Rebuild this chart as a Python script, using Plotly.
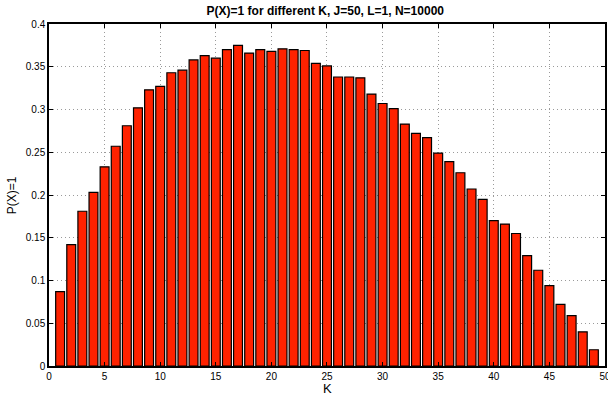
import plotly.graph_objects as go

K = list(range(1, 50))
P = [0.087, 0.142, 0.181, 0.203, 0.233, 0.257, 0.281, 0.302, 0.323, 0.327,
     0.343, 0.346, 0.358, 0.363, 0.360, 0.370, 0.375, 0.366, 0.370, 0.368,
     0.371, 0.370, 0.369, 0.354, 0.351, 0.338, 0.338, 0.337, 0.318, 0.307,
     0.301, 0.283, 0.272, 0.267, 0.249, 0.239, 0.226, 0.207, 0.195, 0.170,
     0.166, 0.155, 0.129, 0.112, 0.094, 0.072, 0.059, 0.040, 0.019]
x_ticks = list(range(0, 51, 5))
y_ticks = [0, 0.05, 0.1, 0.15, 0.2, 0.25, 0.3, 0.35, 0.4]
y_ticklabels = ["0", "0.05", "0.1", "0.15", "0.2", "0.25", "0.3", "0.35", "0.4"]

FONT = "Liberation Sans, Arial, sans-serif"

fig = go.Figure()
fig.add_trace(go.Bar(
    x=K, y=P, width=0.8,
    marker=dict(color="#ff2200", line=dict(color="black", width=1.2)),
    hoverinfo="skip",
))

axis_common = dict(
    showline=True, linecolor="black", linewidth=1.5, mirror="ticks",
    ticks="inside", ticklen=4, tickcolor="black",
    showgrid=True, gridcolor="#9a9a9a", griddash="1px,3px", gridwidth=1,
    zeroline=False, automargin=False,
    tickfont=dict(family=FONT, size=10, color="black"),
)

fig.update_layout(
    width=608, height=398,
    margin=dict(l=49, r=3, t=24, b=32),
    paper_bgcolor="white", plot_bgcolor="white",
    showlegend=False,
    title=dict(text="<b>P(X)=1 for different K, J=50, L=1, N=10000</b>",
               x=0.535, xanchor="center", y=0.972, yanchor="middle",
               font=dict(family=FONT, size=12, color="black")),
    xaxis=dict(range=[0, 50.002], tickvals=x_ticks, ticklabeloverflow="allow", **axis_common),
    yaxis=dict(range=[0, 0.4], tickvals=y_ticks, ticktext=y_ticklabels, **axis_common),
    annotations=[
        dict(text="K", xref="paper", yref="paper", x=0.5, y=-0.038,
             xanchor="center", yanchor="top", showarrow=False,
             font=dict(family=FONT, size=13, color="black")),
        dict(text="P(X)=1", xref="paper", yref="paper", x=-0.066, y=0.5,
             xanchor="center", yanchor="middle", textangle=-90, showarrow=False,
             font=dict(family=FONT, size=12, color="black")),
    ],
)

fig.write_html("out.html", config={"displayModeBar": False},
               post_script="document.body.style.margin='0';document.body.style.overflow='hidden';")
